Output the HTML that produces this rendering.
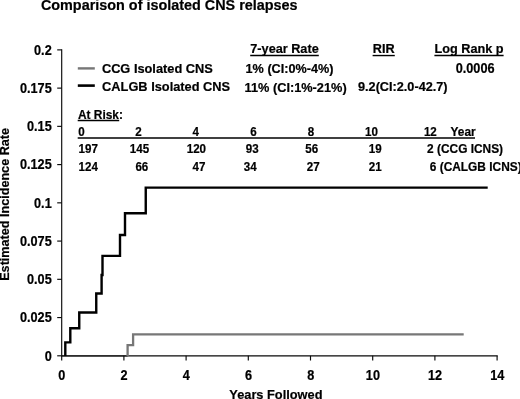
<!DOCTYPE html><html><head><meta charset="utf-8"><title>Comparison of isolated CNS relapses</title>
<style>html,body{margin:0;padding:0;background:#fff;overflow:hidden}svg{display:block;will-change:transform}text{font-family:"Liberation Sans",Arial,Helvetica,sans-serif;font-weight:bold;fill:#000;stroke:#000;stroke-width:0.2px}</style></head><body>
<svg width="520" height="399" viewBox="0 0 520 399">
<rect width="520" height="399" fill="#fff"/>
<text x="40.9" y="10.3" font-size="14.4">Comparison of isolated CNS relapses</text>
<path d="M61.7 356.0 H127.6" stroke="#999" stroke-width="2.2" fill="none"/>
<g stroke="#0a0a0a" stroke-width="1.15" fill="none">
<path d="M61.7 49.299999999999976 V355.8 H497.70000000000005"/>
<path d="M57.2 355.80 H61.7"/>
<path d="M57.2 317.56 H61.7"/>
<path d="M57.2 279.32 H61.7"/>
<path d="M57.2 241.08 H61.7"/>
<path d="M57.2 202.84 H61.7"/>
<path d="M57.2 164.60 H61.7"/>
<path d="M57.2 126.36 H61.7"/>
<path d="M57.2 88.12 H61.7"/>
<path d="M57.2 49.88 H61.7"/>
<path d="M61.70 355.8 V360.5"/>
<path d="M123.90 355.8 V360.5"/>
<path d="M186.10 355.8 V360.5"/>
<path d="M248.30 355.8 V360.5"/>
<path d="M310.50 355.8 V360.5"/>
<path d="M372.70 355.8 V360.5"/>
<path d="M434.90 355.8 V360.5"/>
<path d="M497.10 355.8 V360.5"/>
</g>
<text transform="translate(51.7 361.00) scale(1 1.12)" font-size="12.7" text-anchor="end">0</text>
<text transform="translate(51.7 322.00) scale(1 1.12)" font-size="12.7" text-anchor="end">0.025</text>
<text transform="translate(51.7 284.00) scale(1 1.12)" font-size="12.7" text-anchor="end">0.05</text>
<text transform="translate(51.7 246.00) scale(1 1.12)" font-size="12.7" text-anchor="end">0.075</text>
<text transform="translate(51.7 208.00) scale(1 1.12)" font-size="12.7" text-anchor="end">0.1</text>
<text transform="translate(51.7 169.00) scale(1 1.12)" font-size="12.7" text-anchor="end">0.125</text>
<text transform="translate(51.7 131.00) scale(1 1.12)" font-size="12.7" text-anchor="end">0.15</text>
<text transform="translate(51.7 93.00) scale(1 1.12)" font-size="12.7" text-anchor="end">0.175</text>
<text transform="translate(51.7 55.00) scale(1 1.12)" font-size="12.7" text-anchor="end">0.2</text>
<text transform="translate(61.90 380.45) scale(1 1.12)" font-size="12.7" text-anchor="middle">0</text>
<text transform="translate(124.10 380.45) scale(1 1.12)" font-size="12.7" text-anchor="middle">2</text>
<text transform="translate(186.30 380.45) scale(1 1.12)" font-size="12.7" text-anchor="middle">4</text>
<text transform="translate(248.50 380.45) scale(1 1.12)" font-size="12.7" text-anchor="middle">6</text>
<text transform="translate(310.70 380.45) scale(1 1.12)" font-size="12.7" text-anchor="middle">8</text>
<text transform="translate(372.90 380.45) scale(1 1.12)" font-size="12.7" text-anchor="middle">10</text>
<text transform="translate(435.10 380.45) scale(1 1.12)" font-size="12.7" text-anchor="middle">12</text>
<text transform="translate(497.30 380.45) scale(1 1.12)" font-size="12.7" text-anchor="middle">14</text>
<text x="275.9" y="398.9" font-size="12.8" text-anchor="middle">Years Followed</text>
<text transform="translate(9.3 204.4) rotate(-90)" font-size="12.62" text-anchor="middle">Estimated Incidence Rate</text>
<path d="M127.6 356.0 V345.1 H133.1 V334.3 H463.7" stroke="#777" stroke-width="2.3" fill="none" stroke-linejoin="miter"/>
<path d="M65.3 356 L65.3 342.4 L70.3 342.4 L70.3 328.25 L79.25 328.25 L79.25 312.5 L96.25 312.5 L96.25 293.5 L101.6 293.5 L101.6 275 L102.5 275 L102.5 255.9 L120 255.9 L120 235 L125 235 L125 213.25 L145.75 213.25 L145.75 187.6 L487.7 187.6" stroke="#000" stroke-width="2.4" fill="none" stroke-linejoin="miter"/>
<path d="M77.8 68.4 H94.8" stroke="#777" stroke-width="2.4"/>
<path d="M77.8 85.6 H94.8" stroke="#000" stroke-width="2.6"/>
<text x="101.9" y="72.7" font-size="12.8">CCG Isolated CNS</text>
<text x="102.1" y="91.2" font-size="12.8">CALGB Isolated CNS</text>
<text x="250.3" y="53.2" font-size="12.7">7-year Rate</text>
<path d="M250.2 55.55 H318.8" stroke="#000" stroke-width="1.4"/>
<text x="372.8" y="53.2" font-size="12.7">RIR</text>
<path d="M372.6 55.55 H394.8" stroke="#000" stroke-width="1.4"/>
<text x="434.5" y="53.2" font-size="12.7">Log Rank p</text>
<path d="M434.4 55.55 H503.6" stroke="#000" stroke-width="1.4"/>
<text x="245.6" y="72.8" font-size="12.65">1% (CI:0%-4%)</text>
<text x="244.6" y="91.7" font-size="12.75">11% (CI:1%-21%)</text>
<text x="358" y="91.3" font-size="12.7">9.2(CI:2.0-42.7)</text>
<text transform="translate(455.7 73.1) scale(1 1.1)" font-size="12.7">0.0006</text>
<text x="78" y="119.4" font-size="11.9">At Risk:</text>
<path d="M77.7 120.5 H119.2" stroke="#000" stroke-width="1.5"/>
<path d="M77.7 137.9 H475" stroke="#000" stroke-width="1.5"/>
<text transform="translate(78.3 136.1) scale(1 1.06)" font-size="11.6" text-anchor="start">0</text>
<text transform="translate(135.3 136.1) scale(1 1.06)" font-size="11.6" text-anchor="start">2</text>
<text transform="translate(192.5 136.1) scale(1 1.06)" font-size="11.6" text-anchor="start">4</text>
<text transform="translate(250.3 136.1) scale(1 1.06)" font-size="11.6" text-anchor="start">6</text>
<text transform="translate(307.8 136.1) scale(1 1.06)" font-size="11.6" text-anchor="start">8</text>
<text transform="translate(365.0 136.1) scale(1 1.06)" font-size="11.6" text-anchor="start">10</text>
<text transform="translate(423.9 136.1) scale(1 1.06)" font-size="11.6" text-anchor="start">12</text>
<text transform="translate(450.6 136.1) scale(1 1.06)" font-size="11.9" text-anchor="start">Year</text>
<text transform="translate(78.6 153.4) scale(1 1.06)" font-size="11.6" text-anchor="start">197</text>
<text transform="translate(129.8 153.4) scale(1 1.06)" font-size="11.6" text-anchor="start">145</text>
<text transform="translate(186.7 153.4) scale(1 1.06)" font-size="11.6" text-anchor="start">120</text>
<text transform="translate(245.7 153.4) scale(1 1.06)" font-size="11.6" text-anchor="start">93</text>
<text transform="translate(305.2 153.4) scale(1 1.06)" font-size="11.6" text-anchor="start">56</text>
<text transform="translate(368.8 153.4) scale(1 1.06)" font-size="11.6" text-anchor="start">19</text>
<text transform="translate(427.1 153.4) scale(1 1.06)" font-size="11.9" text-anchor="start">2 (CCG ICNS)</text>
<text transform="translate(78.6 170.8) scale(1 1.06)" font-size="11.6" text-anchor="start">124</text>
<text transform="translate(135.4 170.8) scale(1 1.06)" font-size="11.6" text-anchor="start">66</text>
<text transform="translate(192.6 170.8) scale(1 1.06)" font-size="11.6" text-anchor="start">47</text>
<text transform="translate(243.7 170.8) scale(1 1.06)" font-size="11.6" text-anchor="start">34</text>
<text transform="translate(306.8 170.8) scale(1 1.06)" font-size="11.6" text-anchor="start">27</text>
<text transform="translate(368.8 170.8) scale(1 1.06)" font-size="11.6" text-anchor="start">21</text>
<text transform="translate(429.8 170.8) scale(1 1.06)" font-size="11.9" text-anchor="start">6 (CALGB ICNS)</text>
</svg></body></html>
